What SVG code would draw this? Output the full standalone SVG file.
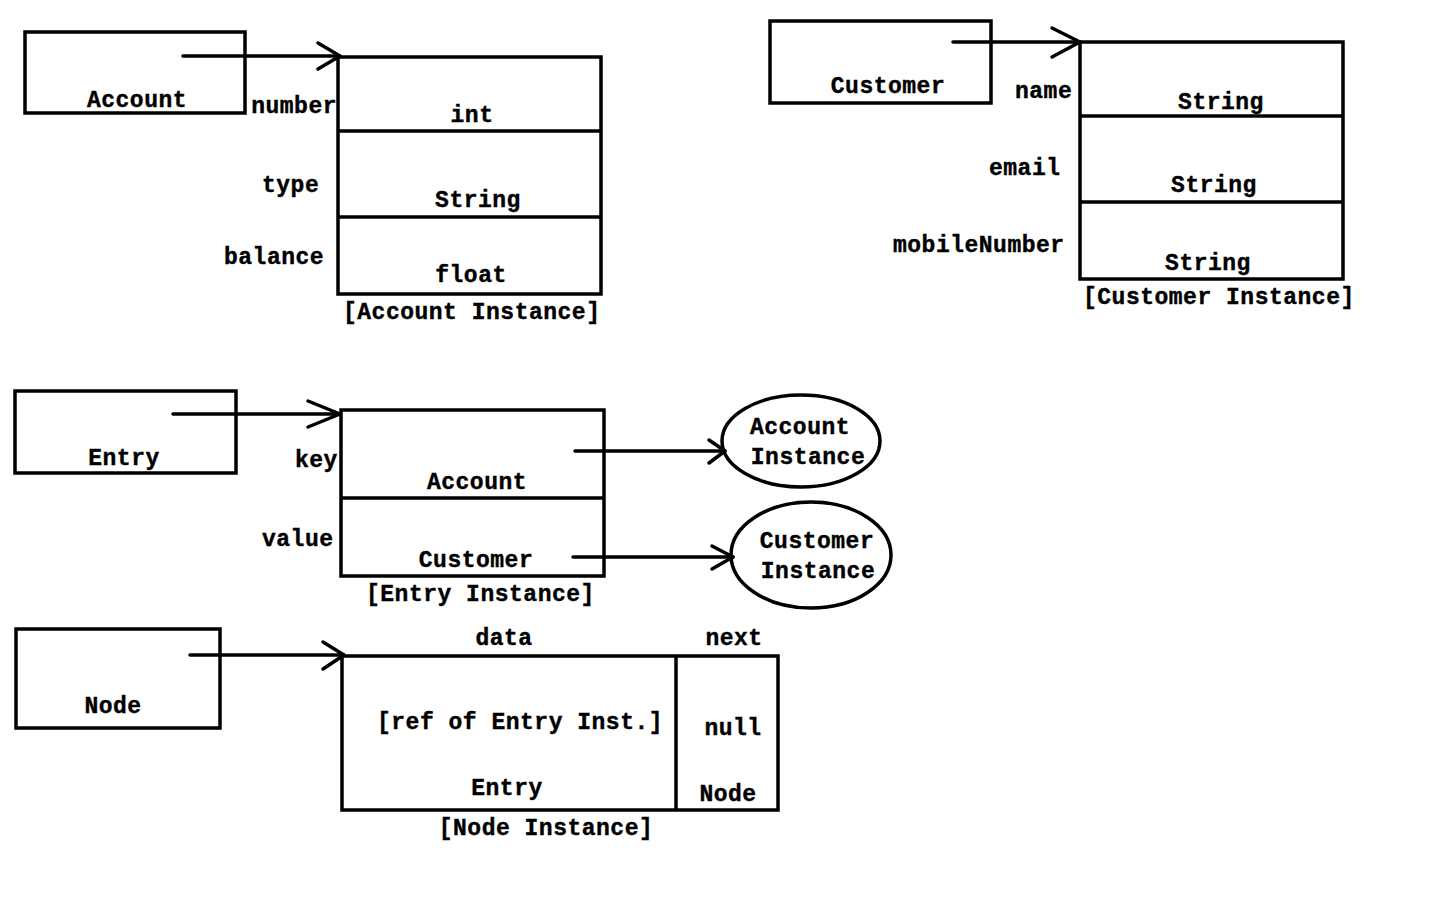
<svg xmlns="http://www.w3.org/2000/svg" width="1440" height="900" viewBox="0 0 1440 900">
<style>
.b{fill:none;stroke:#000;stroke-width:3.5}
.c{fill:none;stroke:#000;stroke-width:3.5;stroke-linecap:round;stroke-linejoin:round}
text{font-family:"Liberation Mono","Courier New",monospace;font-weight:bold;font-size:23px;letter-spacing:0.5px;fill:#000;stroke:#000;stroke-width:0.4}
.m{text-anchor:middle}
.e{text-anchor:end}
</style>
<rect width="1440" height="900" fill="#fff"/>
<g id="account">
<rect class="b" x="25" y="32" width="220" height="81"/>
<text class="m" x="137" y="107">Account</text>
</g>
<g id="account-instance">
<rect class="b" x="338" y="57" width="263" height="237"/>
<line class="b" x1="338" y1="131" x2="601" y2="131"/>
<line class="b" x1="338" y1="217" x2="601" y2="217"/>
<text class="e" x="337" y="113">number</text>
<text class="m" x="472" y="122">int</text>
<text x="262" y="192">type</text>
<text class="m" x="478" y="207">String</text>
<text x="224" y="264">balance</text>
<text class="m" x="471" y="282">float</text>
<text x="343" y="319">[Account Instance]</text>
</g>
<g id="customer">
<rect class="b" x="770" y="21" width="221" height="82"/>
<text class="m" x="888" y="93">Customer</text>
</g>
<g id="customer-instance">
<rect class="b" x="1080" y="42" width="263" height="237"/>
<line class="b" x1="1080" y1="116" x2="1343" y2="116"/>
<line class="b" x1="1080" y1="202" x2="1343" y2="202"/>
<text x="1015" y="98">name</text>
<text class="m" x="1221" y="109">String</text>
<text x="989" y="175">email</text>
<text class="m" x="1214" y="192">String</text>
<text x="893" y="252">mobileNumber</text>
<text class="m" x="1208" y="270">String</text>
<text x="1083" y="304">[Customer Instance]</text>
</g>
<g id="entry">
<rect class="b" x="15" y="391" width="221" height="82"/>
<text class="m" x="124" y="465">Entry</text>
</g>
<g id="entry-instance">
<rect class="b" x="341" y="410" width="263" height="166"/>
<line class="b" x1="341" y1="498" x2="604" y2="498"/>
<text x="295" y="467">key</text>
<text class="m" x="477" y="489">Account</text>
<text x="262" y="546">value</text>
<text class="m" x="476" y="567">Customer</text>
<text x="366" y="601">[Entry Instance]</text>
</g>
<g id="account-instance-ref">
<ellipse class="b" cx="801" cy="441" rx="79" ry="46"/>
<text class="m" x="800" y="434">Account</text>
<text class="m" x="808" y="464">Instance</text>
</g>
<g id="customer-instance-ref">
<ellipse class="b" cx="811" cy="555" rx="80" ry="53"/>
<text class="m" x="817" y="548">Customer</text>
<text class="m" x="818" y="578">Instance</text>
</g>
<g id="node">
<rect class="b" x="16" y="629" width="204" height="99"/>
<text class="m" x="113" y="713">Node</text>
</g>
<g id="node-instance">
<rect class="b" x="342" y="656" width="436" height="154"/>
<line class="b" x1="676" y1="656" x2="676" y2="810"/>
<text class="m" x="504" y="645">data</text>
<text class="m" x="734" y="645">next</text>
<text x="377" y="729">[ref of Entry Inst.]</text>
<text class="m" x="507" y="795">Entry</text>
<text class="m" x="733" y="735">null</text>
<text class="m" x="728" y="801">Node</text>
<text class="m" x="546" y="835">[Node Instance]</text>
</g>
<g id="connectors">
<line class="c" x1="183" y1="56" x2="340" y2="56"/>
<polyline class="c" points="318,43 340,56 318,69"/>
<line class="c" x1="953" y1="42" x2="1080" y2="42"/>
<polyline class="c" points="1052,28 1080,42 1052,57"/>
<line class="c" x1="173" y1="414" x2="340" y2="414"/>
<polyline class="c" points="308,401 340,414 308,427"/>
<line class="c" x1="575" y1="451" x2="725" y2="451"/>
<polyline class="c" points="709,440 725,451 709,463"/>
<line class="c" x1="573" y1="557" x2="733" y2="557"/>
<polyline class="c" points="712,546 733,557 712,569"/>
<line class="c" x1="190" y1="655" x2="344" y2="655"/>
<polyline class="c" points="323,642 344,655 323,669"/>
</g>
</svg>
